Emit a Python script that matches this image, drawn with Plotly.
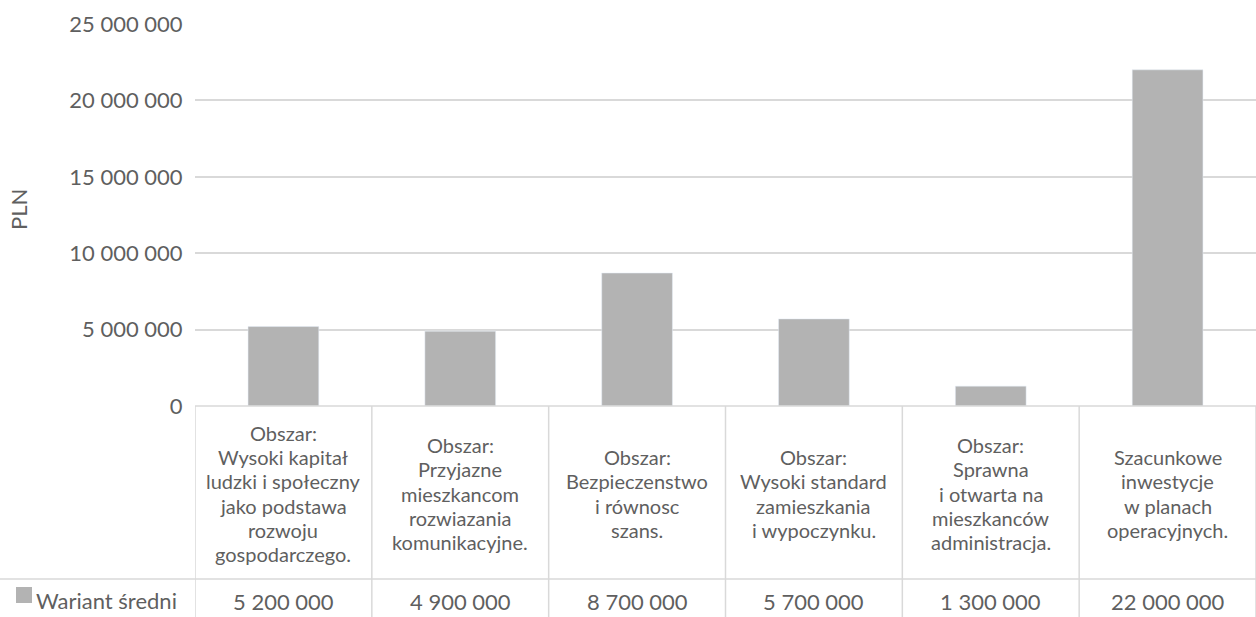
import plotly.graph_objects as go

categories = [
    ["Obszar:", "Wysoki kapitał", "ludzki i społeczny", "jako podstawa", "rozwoju", "gospodarczego."],
    ["Obszar:", "Przyjazne", "mieszkancom", "rozwiazania", "komunikacyjne."],
    ["Obszar:", "Bezpieczenstwo", "i równosc", "szans."],
    ["Obszar:", "Wysoki standard", "zamieszkania", "i wypoczynku."],
    ["Obszar:", "Sprawna", "i otwarta na", "mieszkanców", "administracja."],
    ["Szacunkowe", "inwestycje", "w planach", "operacyjnych."],
]
series_name = "Wariant średni"
values = [5200000, 4900000, 8700000, 5700000, 1300000, 22000000]
tick_vals = [0, 5000000, 10000000, 15000000, 20000000, 25000000]
tick_text = ["0", "5 000 000", "10 000 000", "15 000 000", "20 000 000", "25 000 000"]
axis_title = "PLN"

W, H = 1256, 617
ML, MR, MT, MB = 195, 0, 24, 211
PW, PH = W - ML - MR, H - MT - MB

def py(pix):
    return (H - MB - pix) / PH

def px(pix):
    return (pix - ML) / PW

FONT = "Lato"
TXT = "#5f5f5f"
GRID = "#d9d9d9"
BAR = "#b3b3b3"
FS_CAT = 20
FS = 22
LINE = 24.3
WEIGHT = 400

xs = list(range(len(values)))
fig = go.Figure(go.Bar(x=xs, y=values, width=0.4, marker_color=BAR, name=series_name))

shapes = []
for i in range(len(values) + 1):
    shapes.append(dict(type="line", xref="x", yref="paper", x0=i - 0.5, x1=i - 0.5,
                       y0=py(406), y1=py(640), line=dict(color=GRID, width=1.5)))
shapes.append(dict(type="line", xref="paper", yref="paper", x0=px(195), x1=1,
                   y0=py(406), y1=py(406), line=dict(color=GRID, width=1.5)))
shapes.append(dict(type="line", xref="paper", yref="paper", x0=px(0), x1=1,
                   y0=py(579), y1=py(579), line=dict(color=GRID, width=1.5)))
shapes.append(dict(type="rect", xref="paper", yref="paper", x0=px(16), x1=px(32),
                   y0=py(603), y1=py(587), fillcolor=BAR, line=dict(width=0)))

def font(size):
    return dict(family=FONT, size=size, color=TXT, weight=WEIGHT)

annotations = []
for i, lines in enumerate(categories):
    n = len(lines)
    for k, t in enumerate(lines):
        yc = 493.5 + (k - (n - 1) / 2) * LINE
        annotations.append(dict(x=i, y=py(yc), xref="x", yref="paper", text=t, showarrow=False,
                                xanchor="center", yanchor="middle", font=font(FS_CAT)))
for i, v in enumerate(values):
    annotations.append(dict(x=i, y=py(601), xref="x", yref="paper",
                            text=f"{v:,}".replace(",", " "), showarrow=False,
                            xanchor="center", yanchor="middle", font=font(FS)))
annotations.append(dict(x=px(34), y=py(600), xref="paper", yref="paper", text=series_name,
                        showarrow=False, xanchor="left", yanchor="middle", font=font(FS)))
annotations.append(dict(x=px(18), y=py(210), xref="paper", yref="paper", text=axis_title,
                        showarrow=False, textangle=-90, xanchor="center", yanchor="middle",
                        font=font(FS)))

fig.update_layout(
    width=W, height=H,
    margin=dict(l=ML, r=MR, t=MT, b=MB, pad=0),
    paper_bgcolor="white", plot_bgcolor="white",
    showlegend=False,
    shapes=shapes, annotations=annotations,
    xaxis=dict(range=[-0.5, len(values) - 0.5], showticklabels=False, showgrid=False,
               zeroline=False, showline=False, fixedrange=True),
    yaxis=dict(range=[0, 25000000], tickvals=tick_vals, ticktext=tick_text,
               showgrid=True, gridcolor=GRID, gridwidth=1.5, zeroline=False, showline=False,
               ticks="outside", ticklen=7, tickcolor="rgba(0,0,0,0)",
               tickfont=font(FS), fixedrange=True),
)

fig.write_html("out.html", config={"displayModeBar": False})
